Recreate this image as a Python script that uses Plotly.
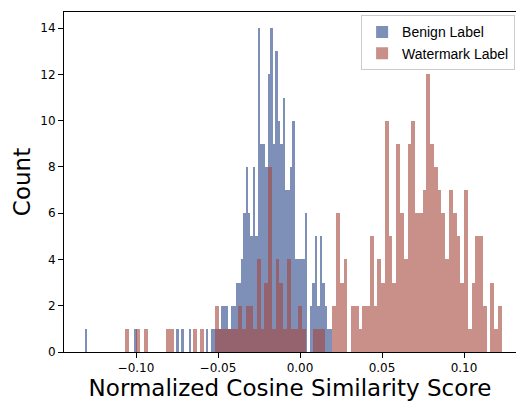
import numpy as np
import plotly.graph_objects as go

# Histogram data (100 bins per series)
benign_range = (-0.1311, 0.0195)
benign_counts = [
    1, 0, 0, 0, 0, 0, 0, 0, 0, 0,
    0, 0, 0, 0, 0, 0, 0, 0, 0, 0,
    1, 0, 0, 0, 0, 0, 0, 0, 0, 0,
    0, 0, 0, 0, 0, 0, 0, 1, 0, 1,
    0, 0, 1, 0, 0, 0, 0, 0, 0, 1,
    0, 1, 1, 1, 1, 2, 2, 2, 1, 2,
    2, 3, 3, 4, 6, 8, 6, 5, 8, 5,
    14, 9, 9, 8, 12, 14, 9, 13, 10, 9,
    11, 7, 7, 8, 10, 4, 4, 4, 4, 6,
    0, 2, 3, 5, 2, 5, 3, 2, 1, 1,
]
watermark_range = (-0.1067, 0.1230)
watermark_counts = [
    1, 0, 0, 1, 0, 1, 0, 0, 0, 0,
    0, 1, 1, 0, 0, 0, 0, 0, 1, 0,
    1, 0, 0, 0, 2, 1, 1, 1, 1, 1,
    2, 1, 2, 2, 1, 4, 1, 3, 8, 1,
    4, 3, 1, 4, 1, 1, 2, 1, 0, 0,
    1, 1, 1, 0, 0, 2, 6, 3, 4, 0,
    2, 2, 1, 2, 2, 5, 2, 4, 3, 10,
    5, 3, 9, 6, 4, 9, 10, 6, 6, 7,
    12, 9, 8, 7, 6, 4, 7, 6, 5, 3,
    7, 1, 3, 5, 5, 2, 0, 3, 1, 2,
]
series_names = ["Benign Label", "Watermark Label"]
x_tick_vals = [-0.10, -0.05, 0.00, 0.05, 0.10]
x_tick_text = ["\u22120.10", "\u22120.05", "0.00", "0.05", "0.10"]
y_tick_vals = [0, 2, 4, 6, 8, 10, 12, 14]


def bins(rng, counts):
    edges = np.linspace(rng[0], rng[1], len(counts) + 1)
    return (edges[:-1] + edges[1:]) / 2, edges[1] - edges[0]


bx, bw = bins(benign_range, benign_counts)
wx, ww = bins(watermark_range, watermark_counts)

fig = go.Figure()
fig.add_trace(go.Bar(x=bx, y=benign_counts, width=bw, name=series_names[0],
                     marker=dict(color="rgba(50,78,142,0.63)", line=dict(width=0))))
fig.add_trace(go.Bar(x=wx, y=watermark_counts, width=ww, name=series_names[1],
                     marker=dict(color="rgba(165,70,58,0.6)", line=dict(width=0))))

fig.update_layout(
    width=516, height=402,
    margin=dict(l=64, r=0, t=12, b=50),
    barmode="overlay", bargap=0,
    paper_bgcolor="white", plot_bgcolor="white",
    font=dict(family="DejaVu Sans", size=12, color="black"),
    legend=dict(x=0.998, y=0.99, xanchor="right", yanchor="top",
                bgcolor="white", bordercolor="#cccccc", borderwidth=1,
                font=dict(family="Liberation Sans", size=14, color="black"),
                itemwidth=30, tracegroupgap=0),
    showlegend=True,
)
fig.update_xaxes(
    range=[-0.1439, 0.1317], tickvals=x_tick_vals, ticktext=x_tick_text,
    ticks="outside", ticklen=5, tickwidth=1, tickcolor="black",
    showline=True, linecolor="black", linewidth=1, mirror=True,
    showgrid=False, zeroline=False,
    title=dict(text="Normalized Cosine Similarity Score",
               font=dict(family="DejaVu Sans", size=23), standoff=4),
    tickfont=dict(size=12),
)
fig.update_yaxes(
    range=[0, 14.7], tickvals=y_tick_vals,
    ticks="outside", ticklen=5, tickwidth=1, tickcolor="black",
    showline=True, linecolor="black", linewidth=1, mirror=False,
    showgrid=False, zeroline=False,
    title=dict(text="Count", font=dict(family="DejaVu Sans", size=23), standoff=3),
    tickfont=dict(size=12),
)

fig.write_html("out.html", config={"displayModeBar": False},
               post_script="document.body.style.margin='0';document.body.style.overflow='hidden';")
